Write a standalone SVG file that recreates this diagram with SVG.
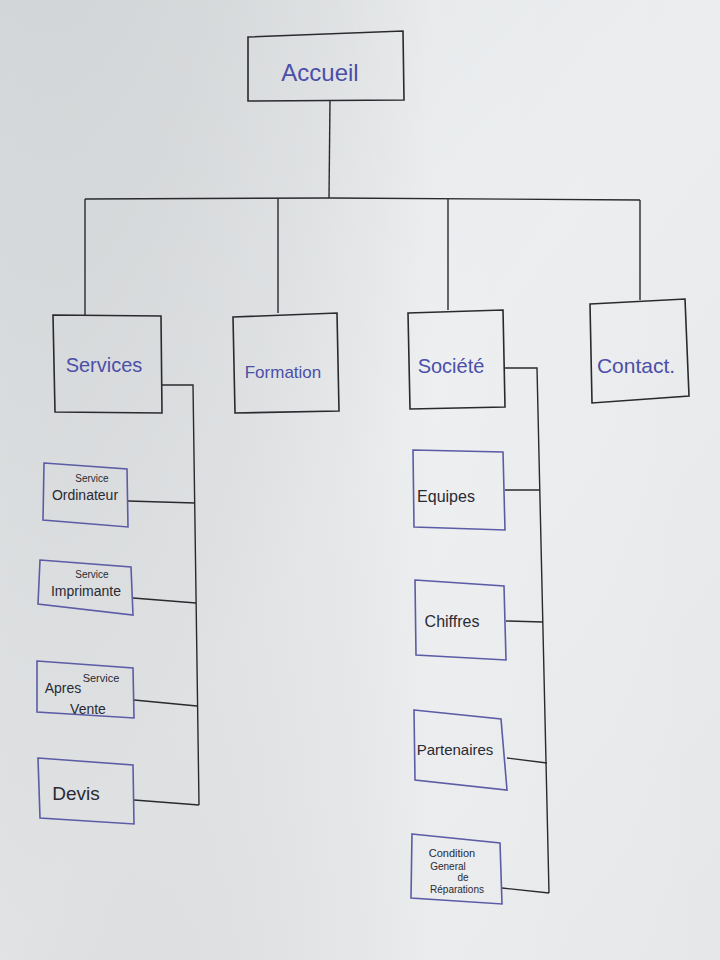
<svg xmlns="http://www.w3.org/2000/svg" width="720" height="960" viewBox="0 0 720 960">
<defs>
<linearGradient id="paper" x1="0" y1="0" x2="1" y2="1">
<stop offset="0" stop-color="#dcdfe1"/>
<stop offset="0.5" stop-color="#eaecee"/>
<stop offset="1" stop-color="#e4e6e8"/>
</linearGradient>
<linearGradient id="paper2" x1="0" y1="0" x2="1" y2="0">
<stop offset="0" stop-color="#000" stop-opacity="0.04"/>
<stop offset="0.6" stop-color="#fff" stop-opacity="0.15"/>
<stop offset="1" stop-color="#fff" stop-opacity="0.05"/>
</linearGradient>
</defs>
<style>
.top{fill:none;stroke:#2a2a2e;stroke-width:1.6}
.sub{fill:none;stroke:#5c5ca6;stroke-width:1.6}
.ln{fill:none;stroke:#2a2a2e;stroke-width:1.4}
.tb{font-family:"Liberation Sans","DejaVu Sans",sans-serif;fill:#4b4fa8;text-anchor:middle}
.tk{font-family:"Liberation Sans","DejaVu Sans",sans-serif;fill:#2a2a33;text-anchor:middle}
</style>
<rect width="720" height="960" fill="url(#paper)"/>
<rect width="720" height="960" fill="url(#paper2)"/>

<g id="connectors">
<path class="ln" d="M330 100 L329 198"/>
<path class="ln" d="M85 199 L330 198 L640 200"/>
<path class="ln" d="M85 199 L85 315"/>
<path class="ln" d="M278 198 L278 313"/>
<path class="ln" d="M448 199 L448 310"/>
<path class="ln" d="M640 200 L640 300"/>
<path class="ln" d="M162 385 L193 385 L199 805"/>
<path class="ln" d="M128 501 L195 503"/>
<path class="ln" d="M133 598 L196 603"/>
<path class="ln" d="M134 700 L197 706"/>
<path class="ln" d="M134 800 L199 805"/>
<path class="ln" d="M505 368 L537 368 L549 893"/>
<path class="ln" d="M505 490 L540 490"/>
<path class="ln" d="M506 621 L543 622"/>
<path class="ln" d="M507 758 L547 763"/>
<path class="ln" d="M502 888 L549 893"/>
</g>

<g id="accueil">
<path class="top" d="M248 37 L403 31 L404 100 L248 101 Z"/>
<text class="tb" x="320" y="81" font-size="24">Accueil</text>
</g>

<g id="services">
<path class="top" d="M53 315 L161 316 L162 413 L55 412 Z"/>
<text class="tb" x="104" y="372" font-size="20">Services</text>
</g>

<g id="formation">
<path class="top" d="M233 317 L337 313 L339 411 L235 413 Z"/>
<text class="tb" x="283" y="378" font-size="17">Formation</text>
</g>

<g id="societe">
<path class="top" d="M408 313 L503 310 L505 407 L410 409 Z"/>
<text class="tb" x="451" y="373" font-size="20">Société</text>
</g>

<g id="contact">
<path class="top" d="M590 304 L685 299 L689 396 L592 403 Z"/>
<text class="tb" x="636" y="373" font-size="21">Contact.</text>
</g>

<g id="service-ordinateur">
<path class="sub" d="M44 463 L127 469 L128 527 L43 520 Z"/>
<text class="tk" x="92" y="482" font-size="10">Service</text>
<text class="tk" x="85" y="500" font-size="14">Ordinateur</text>
</g>

<g id="service-imprimante">
<path class="sub" d="M40 560 L131 567 L133 615 L38 604 Z"/>
<text class="tk" x="92" y="578" font-size="10">Service</text>
<text class="tk" x="86" y="596" font-size="14">Imprimante</text>
</g>

<g id="service-apres-vente">
<path class="sub" d="M37 661 L133 668 L134 718 L37 712 Z"/>
<text class="tk" x="101" y="682" font-size="11">Service</text>
<text class="tk" x="63" y="693" font-size="14">Apres</text>
<text class="tk" x="88" y="714" font-size="14">Vente</text>
</g>

<g id="devis">
<path class="sub" d="M38 758 L133 765 L134 824 L40 818 Z"/>
<text class="tk" x="76" y="800" font-size="19">Devis</text>
</g>

<g id="equipes">
<path class="sub" d="M413 450 L503 452 L505 530 L414 527 Z"/>
<text class="tk" x="446" y="502" font-size="16">Equipes</text>
</g>

<g id="chiffres">
<path class="sub" d="M415 580 L504 586 L506 660 L416 655 Z"/>
<text class="tk" x="452" y="627" font-size="16">Chiffres</text>
</g>

<g id="partenaires">
<path class="sub" d="M414 710 L501 719 L507 790 L415 780 Z"/>
<text class="tk" x="455" y="755" font-size="15">Partenaires</text>
</g>

<g id="condition">
<path class="sub" d="M412 834 L500 843 L502 904 L411 898 Z"/>
<text class="tk" x="452" y="857" font-size="11">Condition</text>
<text class="tk" x="448" y="870" font-size="10">General</text>
<text class="tk" x="463" y="881" font-size="10">de</text>
<text class="tk" x="457" y="893" font-size="10">Réparations</text>
</g>
</svg>
